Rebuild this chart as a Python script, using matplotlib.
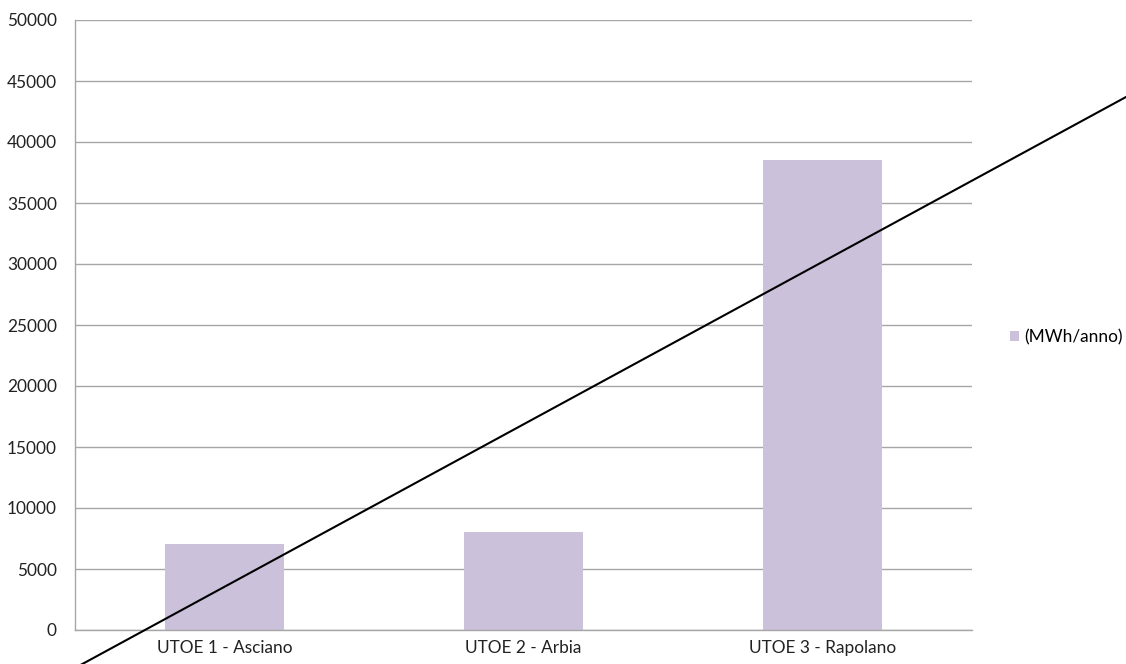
import matplotlib
matplotlib.use("Agg")
import matplotlib.pyplot as plt
from matplotlib.patches import Patch

categories = ["UTOE 1 - Asciano", "UTOE 2 - Arbia", "UTOE 3 - Rapolano"]
values = [7050, 8050, 38500]
series_name = "(MWh/anno)"
yticks = list(range(0, 50001, 5000))
# overlay straight line (data coords)
line_x = [-0.55, 3.1]
line_y = [-3780, 44820]

plt.rcParams['font.family'] = ['Lato', 'DejaVu Sans']
FS = 12.4

fig = plt.figure(figsize=(11.26, 6.64), dpi=100)
ax = fig.add_axes([75/1126, 34/664, (972-75)/1126, (630-20)/664])

bar_color = "#CBC1DB"
ax.bar(range(len(categories)), values, width=0.4, color=bar_color, zorder=2)
ax.set_xlim(-0.5, 2.5)
ax.set_ylim(0, 50000)
ax.set_yticks(yticks)
ax.set_yticklabels([str(t) for t in yticks], fontsize=FS, color="#222222")
ax.set_xticks(range(len(categories)))
ax.set_xticklabels(categories, fontsize=FS, color="#222222")
ax.tick_params(axis='y', length=0, pad=13)
ax.tick_params(axis='x', length=0, pad=7)
ax.grid(axis='y', color="#A6A6A6", linewidth=1.0, zorder=0)
ax.set_axisbelow(True)
for s in ["top", "right"]:
    ax.spines[s].set_visible(False)
for s in ["left", "bottom"]:
    ax.spines[s].set_color("#A6A6A6")
    ax.spines[s].set_linewidth(1.0)

ax.plot(line_x, line_y, color="black", linewidth=1.5, clip_on=False, zorder=5)

handle = Patch(facecolor=bar_color, edgecolor='none')
fig.legend([handle], [series_name], loc='center left', bbox_to_anchor=(1010/1126, 1 - 337/664),
           frameon=False, fontsize=FS, handlelength=0.55, handleheight=0.55, handletextpad=0.3,
           borderaxespad=0, borderpad=0)

fig.savefig("out.png", dpi=100)
